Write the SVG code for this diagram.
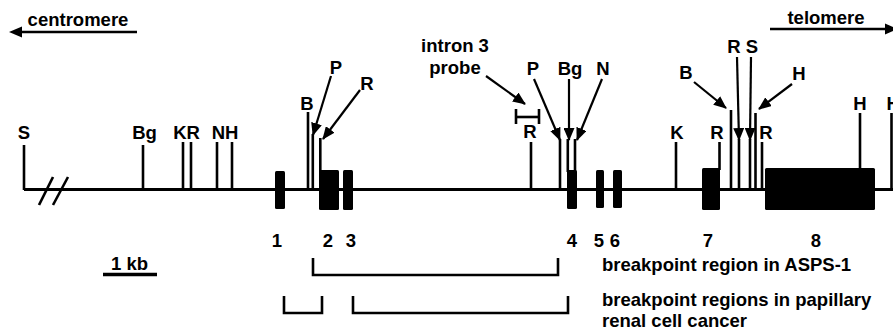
<svg xmlns="http://www.w3.org/2000/svg" width="893" height="336" viewBox="0 0 893 336">
<defs>
<marker id="ah" markerUnits="userSpaceOnUse" markerWidth="13" markerHeight="11" viewBox="0 0 13 11" refX="12" refY="5.5" orient="auto"><path d="M0,0 L13,5.5 L0,11 z" fill="#000"/></marker>
</defs>
<style>
text{font-family:"Liberation Sans",Arial,sans-serif;font-weight:bold;font-size:18.5px;fill:#000}
.c{text-anchor:middle}
.ln{stroke:#000;stroke-width:2.6;fill:none}
.main{stroke:#000;stroke-width:3;fill:none}
.ex{fill:#000}
.arr{stroke:#000;stroke-width:2.2;fill:none;marker-end:url(#ah)}
</style>
<rect width="893" height="336" fill="#fff"/>
<g id="orientation">
<text class="c" x="78" y="26">centromere</text>
<line class="ln" x1="137" y1="32" x2="20" y2="32"/>
<polygon points="9,32 22,26.5 22,37.5" fill="#000"/>
<text class="c" x="826" y="24">telomere</text>
<line class="ln" x1="770" y1="29" x2="887" y2="29"/>
<polygon points="898,29 885,23.5 885,34.5" fill="#000"/>
</g>
<g id="backbone">
<path class="main" d="M24,189.5 H893"/>
<line class="ln" x1="39" y1="205" x2="53" y2="177"/>
<line class="ln" x1="53" y1="205" x2="68" y2="177"/>
</g>
<g id="exons">
<rect id="exon1" class="ex" x="275" y="171" width="10" height="38" rx="1.5"/>
<rect id="exon2" class="ex" x="319" y="170" width="20" height="40" rx="1.5"/>
<rect id="exon3" class="ex" x="343" y="170" width="10" height="40" rx="1.5"/>
<rect id="exon4" class="ex" x="567" y="170" width="10" height="39" rx="1.5"/>
<rect id="exon5" class="ex" x="596" y="170" width="8" height="38" rx="1.5"/>
<rect id="exon6" class="ex" x="613" y="170" width="9" height="38" rx="1.5"/>
<rect id="exon7" class="ex" x="702" y="168" width="18" height="42" rx="1.5"/>
<rect id="exon8" class="ex" x="765" y="168" width="110" height="42" rx="1.5"/>
</g>
<g id="sites">
<g id="site-S1"><line class="ln" x1="24" y1="145" x2="24" y2="190"/><text class="c" x="24" y="139">S</text></g>
<g id="site-Bg1"><line class="ln" x1="143" y1="145" x2="143" y2="190"/><text class="c" x="144.5" y="139">Bg</text></g>
<g id="site-KR"><line class="ln" x1="183" y1="142" x2="183" y2="190"/><line class="ln" x1="191" y1="142" x2="191" y2="190"/><text class="c" x="186.5" y="139">KR</text></g>
<g id="site-NH"><line class="ln" x1="217" y1="142" x2="217" y2="190"/><line class="ln" x1="232" y1="142" x2="232" y2="190"/><text class="c" x="225" y="139">NH</text></g>
<g id="site-B2"><line class="ln" x1="308" y1="112" x2="308" y2="190"/><text class="c" x="307" y="110">B</text></g>
<g id="site-P2"><line class="ln" x1="312.8" y1="134" x2="312.8" y2="190"/><text class="c" x="336" y="74">P</text></g>
<g id="site-R2"><line class="ln" x1="320.3" y1="138" x2="320.3" y2="172"/><text class="c" x="367" y="90">R</text></g>
<g id="probe">
<text class="c" x="455" y="52">intron 3</text>
<text class="c" x="455" y="74">probe</text>
<line class="ln" x1="516" y1="117" x2="539" y2="117"/>
<line class="ln" x1="516" y1="109" x2="516" y2="124"/>
<line class="ln" x1="539" y1="109" x2="539" y2="124"/>
</g>
<g id="site-R3"><line class="ln" x1="531" y1="142" x2="531" y2="190"/><text class="c" x="530" y="138">R</text></g>
<g id="site-P4"><line class="ln" x1="560" y1="139" x2="560" y2="190"/><text class="c" x="533" y="75">P</text></g>
<g id="site-Bg4"><line class="ln" x1="567.8" y1="139" x2="567.8" y2="172"/><text class="c" x="570" y="75">Bg</text></g>
<g id="site-N4"><line class="ln" x1="575" y1="139" x2="575" y2="172"/><text class="c" x="603" y="75">N</text></g>
<g id="site-K7"><line class="ln" x1="676" y1="142" x2="676" y2="190"/><text class="c" x="677" y="139">K</text></g>
<g id="site-R7"><line class="ln" x1="719.5" y1="142" x2="719.5" y2="170"/><text class="c" x="717" y="139">R</text></g>
<g id="site-B7"><line class="ln" x1="731" y1="110" x2="731" y2="190"/><text class="c" x="686" y="79">B</text></g>
<g id="site-R7b"><line class="ln" x1="739" y1="139" x2="739" y2="190"/><text class="c" x="734" y="53">R</text></g>
<g id="site-S7"><line class="ln" x1="750" y1="139" x2="750" y2="190"/><text class="c" x="752" y="53">S</text></g>
<g id="site-H7"><line class="ln" x1="755.5" y1="113" x2="755.5" y2="190"/><text class="c" x="799" y="80">H</text></g>
<g id="site-R8"><line class="ln" x1="762" y1="142" x2="762" y2="190"/><text class="c" x="766" y="139">R</text></g>
<g id="site-H8"><line class="ln" x1="860" y1="113" x2="860" y2="170"/><text class="c" x="860" y="110">H</text></g>
<g id="site-H9"><line class="ln" x1="891.5" y1="113" x2="891.5" y2="190"/><text x="886.5" y="110">H</text></g>
</g>
<g id="connectors">
<line class="arr" x1="331" y1="76" x2="313" y2="135"/>
<line class="arr" x1="360" y1="90" x2="323" y2="139"/>
<line class="arr" x1="486" y1="76" x2="525" y2="104"/>
<line class="arr" x1="534" y1="79" x2="560" y2="140"/>
<line class="arr" x1="569" y1="79" x2="569" y2="140"/>
<line class="arr" x1="602" y1="79" x2="577" y2="140"/>
<line class="arr" x1="694" y1="82" x2="726" y2="108"/>
<line class="arr" x1="737" y1="57" x2="739" y2="140"/>
<line class="arr" x1="751" y1="57" x2="750" y2="140"/>
<line class="arr" x1="792" y1="84" x2="759" y2="109"/>
</g>
<g id="exon-numbers">
<text class="c" x="277" y="247">1</text>
<text class="c" x="328" y="247">2</text>
<text class="c" x="351" y="247">3</text>
<text class="c" x="572" y="247">4</text>
<text class="c" x="599" y="247">5</text>
<text class="c" x="615" y="247">6</text>
<text class="c" x="708" y="247">7</text>
<text class="c" x="816" y="247">8</text>
</g>
<g id="scale">
<text class="c" x="129.5" y="270">1 kb</text>
<line stroke="#000" stroke-width="3.5" x1="103" y1="274.5" x2="157" y2="274.5"/>
</g>
<g id="breakpoints">
<path class="ln" d="M313,258 V275 H558 V258"/>
<text x="602" y="271">breakpoint region in ASPS-1</text>
<path class="ln" d="M284,296 V313 H322 V296"/>
<path class="ln" d="M353,296 V313 H568 V296"/>
<text x="602" y="306">breakpoint regions in papillary</text>
<text x="602" y="327">renal cell cancer</text>
</g>
</svg>
